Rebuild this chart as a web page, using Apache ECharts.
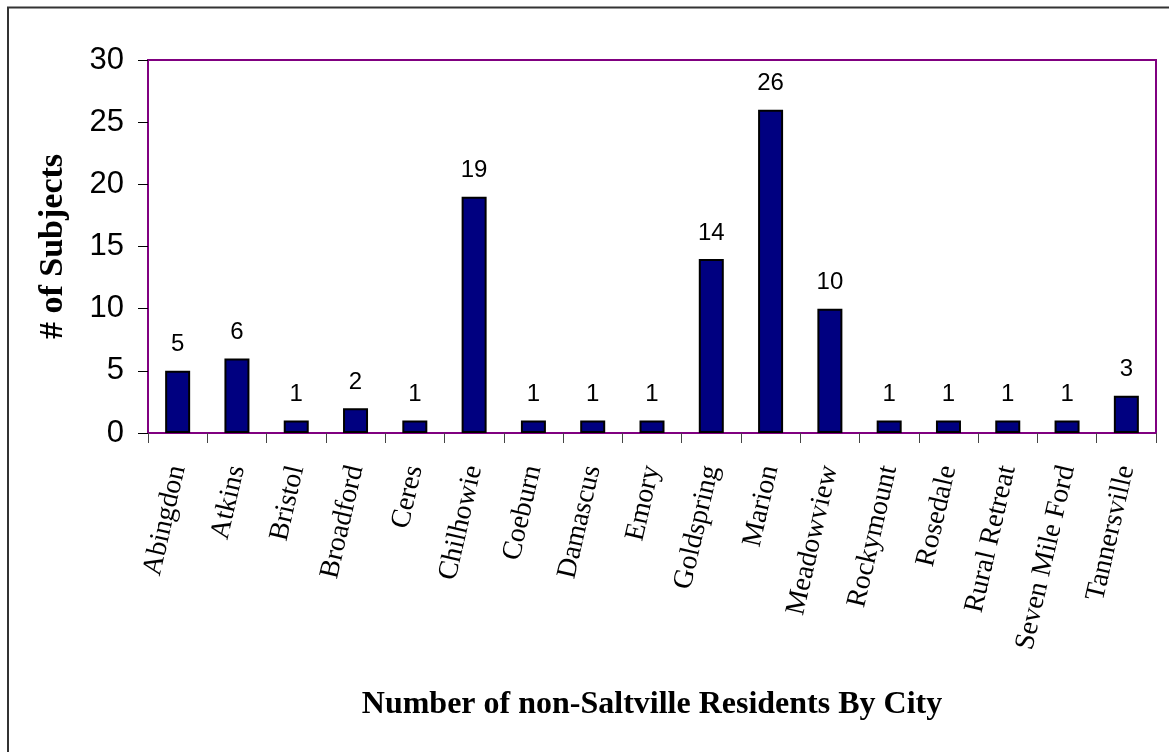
<!DOCTYPE html>
<html>
<head>
<meta charset="utf-8">
<script src="https://cdn.jsdelivr.net/npm/echarts@6/dist/echarts.min.js"></script>
<style>
html,body{margin:0;padding:0;background:#fff;}
#chart{width:1169px;height:752px;}
</style>
</head>
<body>
<div id="chart"></div>
<script>
const cities = ["Abingdon","Atkins","Bristol","Broadford","Ceres","Chilhowie","Coeburn","Damascus","Emory","Goldspring","Marion","Meadowview","Rockymount","Rosedale","Rural Retreat","Seven Mile Ford","Tannersville"];
const subjects = [5,6,1,2,1,19,1,1,1,14,26,10,1,1,1,1,3];
const yTicks = {min:0, max:30, interval:5};
const xTitle = "Number of non-Saltville Residents By City";
const yTitle = "# of Subjects";

const chart = echarts.init(document.getElementById('chart'), null, {renderer:'canvas'});
chart.setOption({
  backgroundColor:'#fff',
  animation:false,
  graphic:[{
    type:'polyline',
    shape:{points:[[8,752],[8,7.5],[1169,7.5]]},
    style:{stroke:'#333',lineWidth:2,fill:null}
  }],
  grid:{left:148, top:60, right:13, bottom:319, show:true, borderColor:'#800080', borderWidth:2, backgroundColor:'transparent'},
  xAxis:{
    type:'category',
    data:cities,
    boundaryGap:true,
    axisLine:{show:true, lineStyle:{color:'#800080', width:2}},
    axisTick:{show:true, length:10, lineStyle:{color:'#444', width:1}},
    axisLabel:{rotate:77, margin:33, fontFamily:'"Liberation Serif","Times New Roman",serif', fontSize:28, color:'#000', interval:0},
    name:xTitle,
    nameLocation:'middle',
    nameGap:256,
    nameTextStyle:{fontFamily:'"Liberation Serif","Times New Roman",serif', fontWeight:'bold', fontSize:32, color:'#000'}
  },
  yAxis:{
    type:'value',
    min:yTicks.min, max:yTicks.max, interval:yTicks.interval,
    axisLine:{show:true, lineStyle:{color:'#800080', width:2}},
    axisTick:{show:true, length:10, lineStyle:{color:'#000', width:1}},
    splitLine:{show:false},
    axisLabel:{margin:24, fontFamily:'"Liberation Sans",Arial,sans-serif', fontSize:31, color:'#000'},
    name:yTitle,
    nameLocation:'middle',
    nameGap:78,
    nameRotate:90,
    nameTextStyle:{fontFamily:'"Liberation Serif","Times New Roman",serif', fontWeight:'bold', fontSize:34, color:'#000'}
  },
  series:[{
    type:'bar',
    data:subjects,
    barWidth:25,
    itemStyle:{color:'#000080', borderColor:'#000', borderWidth:2},
    label:{show:true, position:'top', distance:14, fontFamily:'"Liberation Sans",Arial,sans-serif', fontSize:24, color:'#000'}
  }]
});
</script>
</body>
</html>
